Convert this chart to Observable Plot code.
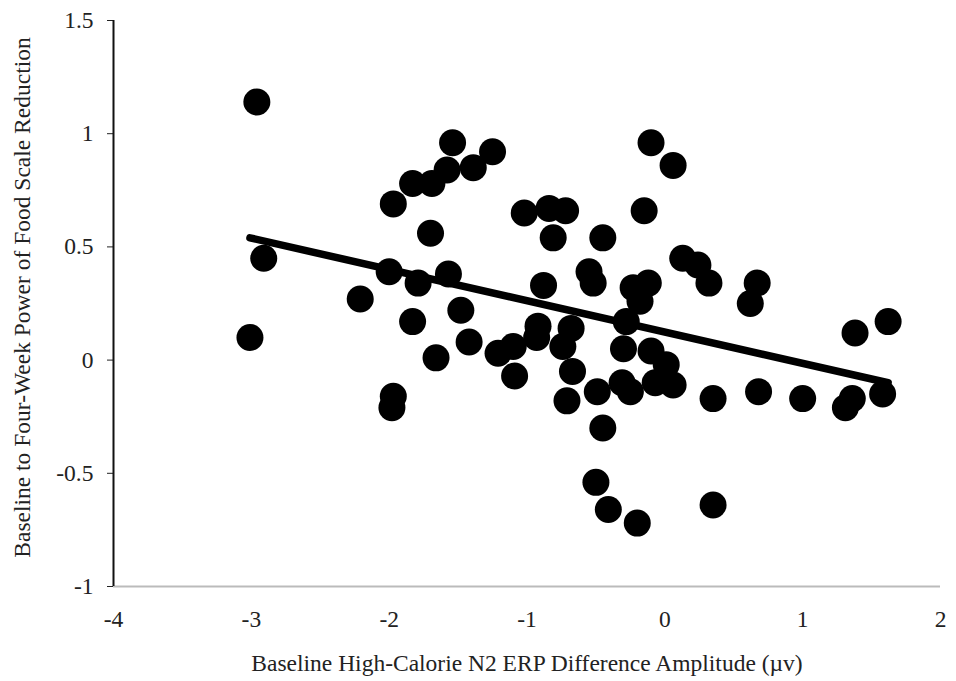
<!DOCTYPE html>
<html><head><meta charset="utf-8">
<script src="https://cdn.jsdelivr.net/npm/d3@7"></script>
<script src="https://cdn.jsdelivr.net/npm/@observablehq/plot@0.6"></script>
<style>html,body{margin:0;padding:0;background:#fff}</style>
</head><body><div id="chart"></div>
<script>
// Baseline High-Calorie N2 ERP Difference Amplitude (µv)
const xValues = [-2.96,-2.91,-3.01,-2.21,-1.97,-2.00,-1.97,-1.98,-1.83,-1.83,
  -1.79,-1.69,-1.70,-1.66,-1.58,-1.54,-1.57,-1.48,-1.42,-1.39,
  -1.25,-1.21,-1.10,-1.09,-1.02,-0.84,-0.72,-0.81,-0.88,-0.92,
  -0.93,-0.68,-0.74,-0.67,-0.71,-0.55,-0.52,-0.45,-0.49,-0.45,
  -0.50,-0.41,-0.20,-0.28,-0.30,-0.31,-0.25,-0.23,-0.12,-0.18,
  -0.15,-0.10,0.06,-0.10,0.01,-0.07,0.06,0.13,0.24,0.32,
  0.35,0.35,0.67,0.62,0.68,1.00,1.38,1.62,1.31,1.36,1.58];
// Baseline to Four-Week Power of Food Scale Reduction
const yValues = [1.14,0.45,0.10,0.27,0.69,0.39,-0.16,-0.21,0.78,0.17,
  0.34,0.78,0.56,0.01,0.84,0.96,0.38,0.22,0.08,0.85,
  0.92,0.03,0.06,-0.07,0.65,0.67,0.66,0.54,0.33,0.15,
  0.10,0.14,0.06,-0.05,-0.18,0.39,0.34,0.54,-0.14,-0.30,
  -0.54,-0.66,-0.72,0.17,0.05,-0.10,-0.14,0.32,0.34,0.26,
  0.66,0.96,0.86,0.04,-0.02,-0.10,-0.11,0.45,0.42,0.34,
  -0.17,-0.64,0.34,0.25,-0.14,-0.17,0.12,0.17,-0.21,-0.17,-0.15];
// fitted trend line end points
const trendX = [-3.01, 1.62];
const trendY = [0.54, -0.10];
const xTicks = [-4,-3,-2,-1,0,1,2];
const yTicks = [-1,-0.5,0,0.5,1,1.5];
const xLabel = "Baseline High-Calorie N2 ERP Difference Amplitude (µv)";
const yLabel = "Baseline to Four-Week Power of Food Scale Reduction";

const points = xValues.map((x,i)=>({x, y:yValues[i]}));
const trend = trendX.map((x,i)=>({x, y:trendY[i]}));

const chart = Plot.plot({
  width:956, height:681,
  marginLeft:113, marginRight:16, marginTop:20, marginBottom:95,
  style:{fontFamily:"'Liberation Serif', 'Times New Roman', serif", fontSize:"23.5px", color:"#222", background:"#fff"},
  x:{domain:[-4,2]},
  y:{domain:[-1,1.5]},
  marks:[
    Plot.axisX({ticks:xTicks, tickSize:0, tickPadding:24, tickFormat:d=>String(d), label:null, fontSize:23.5}),
    Plot.axisY({ticks:yTicks, tickSize:6, tickPadding:14, tickFormat:d=>String(d), label:null, fontSize:23.5}),
    Plot.ruleY([-1], {stroke:"#bbb", strokeWidth:2}),
    Plot.ruleX([-4], {stroke:"#111", strokeWidth:2}),
    Plot.dot(points, {x:"x", y:"y", r:13.5, fill:"#000", stroke:"none"}),
    Plot.line(trend, {x:"x", y:"y", stroke:"#000", strokeWidth:7.5, strokeLinecap:"round"}),
    Plot.text([xLabel], {text:d=>d, frameAnchor:"bottom", lineAnchor:"middle", dy:77, fontSize:23.5, fill:"#222"}),
    Plot.text([yLabel], {text:d=>d, frameAnchor:"left", textAnchor:"middle", lineAnchor:"middle", dx:-91, dy:-6, rotate:-90, fontSize:23.5, fill:"#222"})
  ]
});
document.getElementById("chart").appendChild(chart);
</script>
</body></html>
